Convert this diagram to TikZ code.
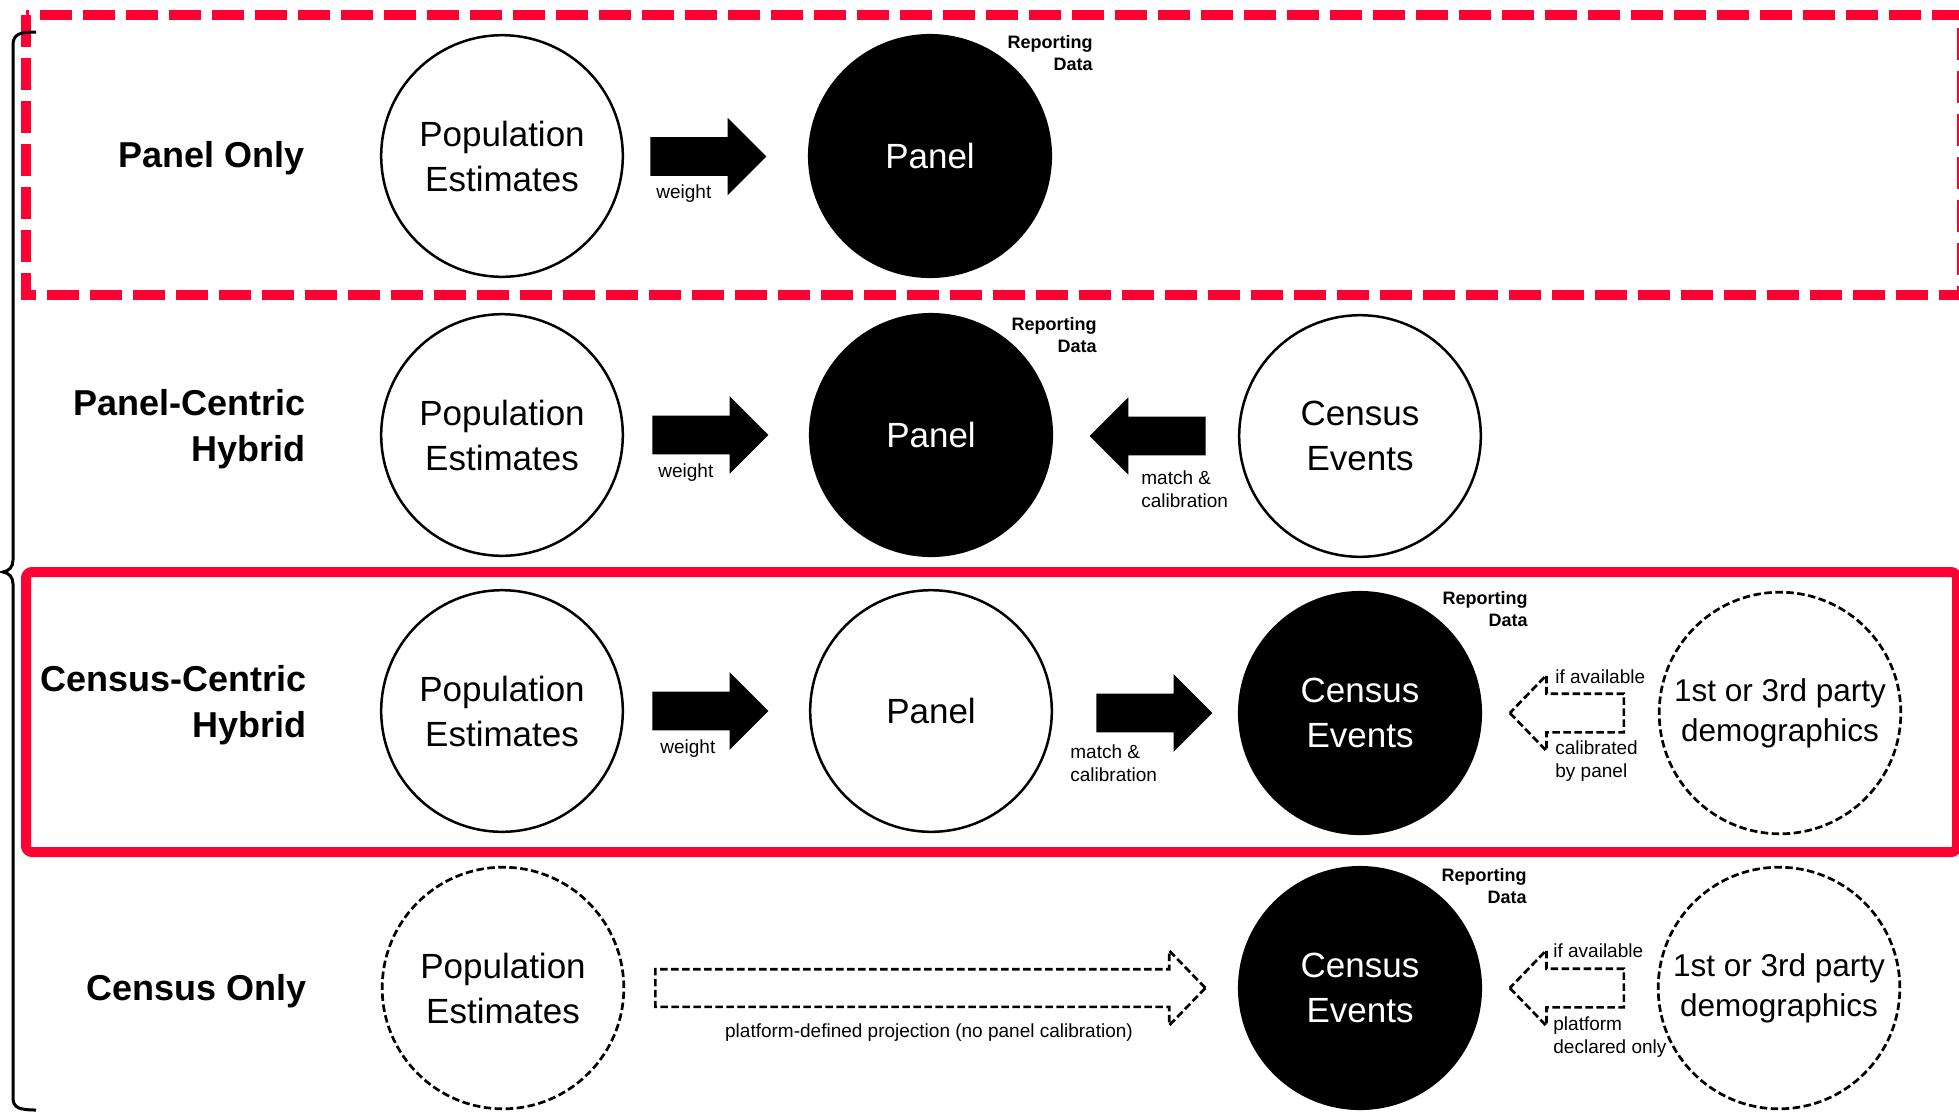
\documentclass[tikz,border=0pt]{standalone}
\usepackage{fontspec}
\setmainfont{Liberation Sans}
\usetikzlibrary{shapes.arrows}

\definecolor{alertred}{RGB}{255,0,51}

% text sizes used in the chart
\newcommand\circfont{\fontsize{17.5}{22.5}\selectfont}
\newcommand\demfont{\fontsize{15.75}{20}\selectfont}
\newcommand\lblfont{\fontsize{18}{23}\selectfont\bfseries}
\newcommand\notefont{\fontsize{9.5}{11.5}\selectfont}
\newcommand\repfont{\fontsize{9}{11}\selectfont\bfseries}

\tikzset{
  ring/.style={circle, draw, line width=1.25pt, minimum size=120.8pt,
    inner sep=0pt, align=center, font=\circfont},
  solidring/.style={ring, fill=black, text=white},
  dashring/.style={ring, line width=1.35pt, dash pattern=on 3.75pt off 1.75pt},
  blockarrow/.style={single arrow, fill=black, inner xsep=0pt, inner ysep=9.5pt,
    minimum height=58pt,
    single arrow head extend=9.75pt, single arrow tip angle=90},
  hollowarrow/.style={single arrow, draw, inner xsep=0pt, inner ysep=9pt,
    line width=1.35pt, dash pattern=on 3.75pt off 1.75pt,
    single arrow head extend=9.25pt, single arrow tip angle=92},
  rowlabel/.style={font=\lblfont, align=right, inner sep=0pt},
  note/.style={font=\notefont, align=left, inner sep=0pt},
  report/.style={font=\repfont, align=right, inner sep=0pt},
  redframe/.style={draw=alertred, line width=5pt},
}

\begin{document}
\begin{tikzpicture}[x=0.5pt, y=-0.5pt]
\useasboundingbox (0,0) rectangle (1959,1115);

% highlight frames
\draw[redframe, dash pattern=on 16pt off 5.5pt] (26,15) rectangle (1962,295);
\draw[redframe, rounded corners=3pt, line join=round] (26,572) rectangle (1957,852);

% brace grouping the four approaches
\draw[line width=1.5pt]
  (36,32) .. controls (20,32) and (13,34) .. (13,45) -- (13,560)
  .. controls (13,567) and (9,571) .. (3,572)
  .. controls (9,573) and (13,577) .. (13,584) -- (13,1098)
  .. controls (13,1108) and (20,1110) .. (36,1110);

% ---- row 1: panel only
\node[rowlabel, anchor=base east] (lab1) at (305,167) {Panel Only};
\node[ring] (pe1) at (502,156) {Population\\Estimates};
\node[solidring] (p1) at (930,156) {Panel};
\node[blockarrow, anchor=tail] (a1) at (650,156.5) {};
\node[note, anchor=base west] (w1) at (656,198) {weight};
\node[report, anchor=east] (r1) at (1093,53) {Reporting\\Data};

% ---- row 2: panel-centric hybrid
\node[rowlabel, anchor=east] (lab2) at (306,429.5) {Panel-Centric\\Hybrid};
\node[ring] (pe2) at (502,435) {Population\\Estimates};
\node[solidring] (p2) at (931,435) {Panel};
\node[ring] (ce2) at (1360,436) {Census\\Events};
\node[blockarrow, anchor=tail] (a2) at (652,435) {};
\node[note, anchor=base west] (w2) at (658,477) {weight};
\node[blockarrow, shape border rotate=180, anchor=tip] (b2) at (1089,436) {};
\node[note, anchor=west] (mc2) at (1141,489.5) {match \&\\calibration};
\node[report, anchor=east] (r2) at (1097,335) {Reporting\\Data};

% ---- row 3: census-centric hybrid
\node[rowlabel, anchor=east] (lab3) at (307,705) {Census-Centric\\Hybrid};
\node[ring] (pe3) at (502,711) {Population\\Estimates};
\node[ring] (p3) at (931,711) {Panel};
\node[solidring] (ce3) at (1360,713) {Census\\Events};
\node[dashring, font=\demfont] (d3) at (1780,713) {1st or 3rd party\\demographics};
\node[blockarrow, anchor=tail] (a3) at (652,711) {};
\node[note, anchor=base west] (w3) at (660,753) {weight};
\node[blockarrow, anchor=tail] (b3) at (1096,713) {};
\node[note, anchor=west] (mc3) at (1070,763.5) {match \&\\calibration};
\node[hollowarrow, minimum height=57pt, shape border rotate=180, anchor=tip] (h3) at (1508,713) {};
\node[note, anchor=base west] (ia3) at (1555,683.5) {if available};
\node[note, anchor=west] (cb3) at (1555,761.5) {calibrated\\by panel};
\node[report, anchor=east] (r3) at (1528,609) {Reporting\\Data};

% ---- row 4: census only
\node[rowlabel, anchor=base east] (lab4) at (307,1000.5) {Census Only};
\node[dashring] (pe4) at (503,988) {Population\\Estimates};
\node[solidring] (ce4) at (1360,988) {Census\\Events};
\node[dashring, font=\demfont] (d4) at (1779,988) {1st or 3rd party\\demographics};
\node[hollowarrow, minimum height=275pt, inner ysep=8.75pt, anchor=tail] (h4) at (654,988) {};
\node[note, anchor=base] (proj) at (929,1037) {platform-defined projection (no panel calibration)};
\node[hollowarrow, minimum height=57pt, shape border rotate=180, anchor=tip] (g4) at (1508,988) {};
\node[note, anchor=base west] (ia4) at (1553,957) {if available};
\node[note, anchor=west] (pd4) at (1553,1037.5) {platform\\declared only};
\node[report, anchor=east] (r4) at (1527,886.5) {Reporting\\Data};
\end{tikzpicture}
\end{document}
